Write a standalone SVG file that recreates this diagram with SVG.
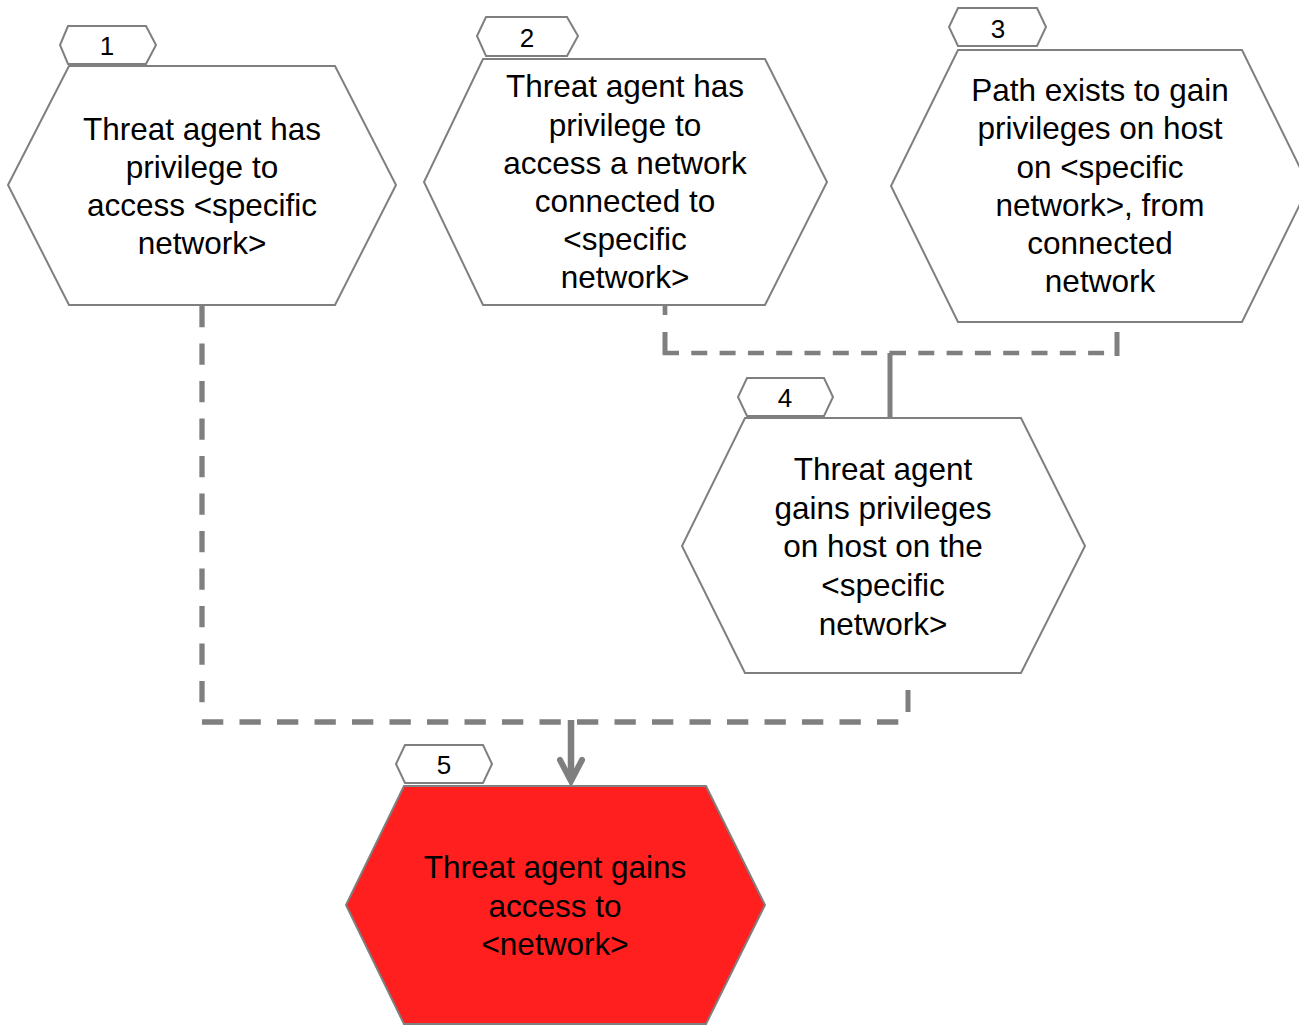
<svg xmlns="http://www.w3.org/2000/svg" width="1299" height="1026" viewBox="0 0 1299 1026">
<style>
.hex{fill:#ffffff;stroke:#7f7f7f;stroke-width:2}
.red{fill:#ff1f1f}
.tag{fill:#ffffff;stroke:#7f7f7f;stroke-width:2}
.t{font-family:"Liberation Sans",Arial,sans-serif;font-size:31.5px;fill:#000;text-anchor:middle}
.n{font-family:"Liberation Sans",Arial,sans-serif;font-size:26px;fill:#000;text-anchor:middle}
.dashL{fill:none;stroke:#7f7f7f;stroke-width:5.3;stroke-dasharray:21.3 16.2}
.dashU{fill:none;stroke:#7f7f7f;stroke-width:4.7;stroke-dasharray:16 12.3}
.solid{fill:none;stroke:#7f7f7f;stroke-width:5}
.shaft{fill:none;stroke:#7f7f7f;stroke-width:6.5}
</style>
<defs>
<marker id="arr" markerUnits="userSpaceOnUse" markerWidth="40" markerHeight="40" refX="34" refY="20" orient="auto" viewBox="0 0 40 40">
<path d="M13,9 L34,20 L13,31" fill="none" stroke="#7f7f7f" stroke-width="6" stroke-linecap="round" stroke-linejoin="miter"/>
</marker>
</defs>
<rect width="1299" height="1026" fill="#ffffff"/>
<g id="connectors">
<path class="dashL" d="M202,306 V716"/>
<path class="dashL" d="M202,722 H910"/>
<path class="solid" d="M908,690 V712"/>
<path class="dashU" d="M665,305 V315"/>
<path class="solid" d="M665,332 V355"/>
<path class="dashU" d="M663,353 H890"/>
<path class="dashU" d="M890,353 H1117"/>
<path class="solid" d="M1117,332 V356"/>
<path class="solid" d="M890,353 V418"/>
<path class="shaft" d="M571,720 V781" marker-end="url(#arr)"/>
</g>
<g id="node1">
<polygon class="hex" points="69,66 335,66 396,185 335,305 69,305 8,185"/>
<polygon class="tag" points="68,26 146,26 156,45 146,64 68,64 60,45"/>
<text class="n" x="107" y="55">1</text>
<text class="t" x="202" y="139.5">Threat agent has</text>
<text class="t" x="202" y="177.8">privilege to</text>
<text class="t" x="202" y="216">access &lt;specific</text>
<text class="t" x="202" y="254">network&gt;</text>
</g>
<g id="node2">
<polygon class="hex" points="483,59 765,59 827,182 765,305 483,305 424,182"/>
<polygon class="tag" points="486,17 567,17 578,36 567,56 486,56 477,36"/>
<text class="n" x="527" y="46.5">2</text>
<text class="t" x="625" y="97.3">Threat agent has</text>
<text class="t" x="625" y="135.5">privilege to</text>
<text class="t" x="625" y="173.7">access a network</text>
<text class="t" x="625" y="211.9">connected to</text>
<text class="t" x="625" y="250.1">&lt;specific</text>
<text class="t" x="625" y="288.3">network&gt;</text>
</g>
<g id="node3">
<polygon class="hex" points="958,50 1242,50 1309,186 1242,322 958,322 891,186"/>
<polygon class="tag" points="958,8 1037,8 1046,27 1037,46 958,46 949,27"/>
<text class="n" x="998" y="38">3</text>
<text class="t" x="1100" y="101">Path exists to gain</text>
<text class="t" x="1100" y="139.3">privileges on host</text>
<text class="t" x="1100" y="177.5">on &lt;specific</text>
<text class="t" x="1100" y="215.8">network&gt;, from</text>
<text class="t" x="1100" y="254">connected</text>
<text class="t" x="1100" y="292.3">network</text>
</g>
<g id="node4">
<polygon class="hex" points="745,418 1021,418 1085,546 1021,673 745,673 682,546"/>
<polygon class="tag" points="747,378 824,378 833,397 824,416 747,416 738,397"/>
<text class="n" x="785" y="407">4</text>
<text class="t" x="883" y="480">Threat agent</text>
<text class="t" x="883" y="518.7">gains privileges</text>
<text class="t" x="883" y="557.4">on host on the</text>
<text class="t" x="883" y="596.1">&lt;specific</text>
<text class="t" x="883" y="634.8">network&gt;</text>
</g>
<g id="node5">
<polygon class="hex red" points="404,786 706,786 765,905 706,1024 404,1024 346,905"/>
<polygon class="tag" points="405,745 483,745 492,764 483,783 405,783 396,764"/>
<text class="n" x="444" y="774">5</text>
<text class="t" x="555" y="878.3">Threat agent gains</text>
<text class="t" x="555" y="916.5">access to</text>
<text class="t" x="555" y="954.5">&lt;network&gt;</text>
</g>
</svg>
